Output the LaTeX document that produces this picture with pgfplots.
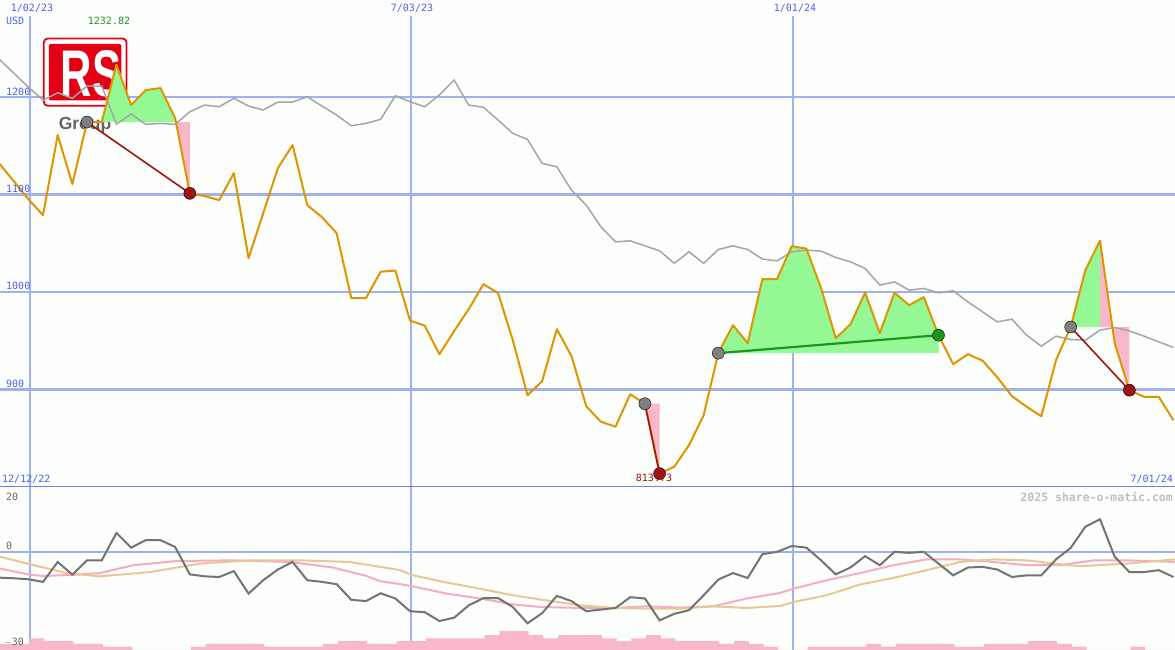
\documentclass[border=0pt]{standalone}
\usepackage{fontspec}
\usepackage{pgfplots}
\usepackage{pgfplotstable}
\pgfplotsset{compat=1.18}
\setmainfont{DejaVu Sans Mono}
\newfontfamily\logofont{Liberation Sans}
\definecolor{bg}{RGB}{252,254,252}
\definecolor{gridb}{RGB}{160,176,240}
\definecolor{gridd}{RGB}{112,128,232}
\definecolor{lblue}{RGB}{80,96,240}
\definecolor{pricec}{RGB}{222,150,0}
\definecolor{mac}{RGB}{165,165,165}
\definecolor{oscc}{RGB}{115,115,115}
\definecolor{pinkl}{RGB}{248,170,195}
\definecolor{tanl}{RGB}{230,200,150}
\definecolor{gfill}{RGB}{148,248,148}
\definecolor{pfill}{RGB}{248,184,202}
\definecolor{dred}{RGB}{160,20,20}
\definecolor{dgreen}{RGB}{30,150,30}
\definecolor{dotgrey}{RGB}{128,128,128}
\definecolor{logored}{RGB}{228,0,20}
\definecolor{lblgrey}{RGB}{100,100,100}

\pgfplotstableread{
k price ma osc
-3 1132.0 1238.7 -7.8
-2 1113.6 1224.3 -8.0
-1 1095.1 1210.0 -8.3
0 1078.7 1196.6 -9.1
1 1160.7 1204.1 -3.0
2 1110.5 1198.4 -6.9
3 1174.1 1211.0 -2.5
4 1174.1 1211.0 -2.5
5 1232.82 1172.0 5.9
6 1191.5 1182.3 1.4
7 1206.9 1171.7 3.7
8 1208.9 1172.7 3.7
9 1178.2 1171.7 1.6
10 1101.0 1184.6 -6.8
11 1098.2 1191.5 -7.4
12 1094.1 1189.8 -7.6
13 1121.8 1198.4 -5.8
14 1034.6 1190.5 -12.7
15 1080.7 1186.4 -8.6
16 1126.9 1194.6 -5.3
17 1150.5 1194.6 -3.0
18 1088.9 1200.0 -8.6
19 1076.6 1190.5 -9.1
20 1060.2 1181.3 -9.8
21 993.6 1170.3 -14.6
22 993.6 1172.7 -15.0
23 1020.7 1176.9 -12.6
24 1021.8 1201.0 -14.2
25 970.5 1194.9 -18.1
26 965.4 1189.8 -18.4
27 936.1 1201.8 -21.1
28 959.7 1217.2 -20.1
29 982.3 1191.5 -16.3
30 1007.9 1189.2 -14.1
31 998.7 1176.1 -14.1
32 950.5 1162.5 -16.8
33 894.1 1156.3 -21.8
34 908.4 1131.7 -18.7
35 961.8 1128.2 -13.4
36 934.1 1104.3 -15.0
37 882.8 1089.0 -18.1
38 866.9 1066.7 -17.6
39 861.8 1051.3 -17.1
40 895.1 1052.3 -13.8
41 885.4 1047.2 -14.2
42 813.73 1042.1 -20.9
43 820.8 1029.2 -18.9
44 842.8 1041.1 -17.8
45 873.6 1029.2 -13.2
46 937.2 1043.5 -8.4
47 965.9 1047.2 -6.4
48 947.4 1043.5 -7.9
49 1013.1 1033.6 -0.6
50 1013.1 1031.8 0.1
51 1046.9 1041.1 1.9
52 1044.3 1042.8 1.4
53 1003.8 1041.8 -2.5
54 952.5 1035.3 -6.8
55 966.9 1030.8 -4.7
56 999.2 1024.0 -1.2
57 957.7 1006.9 -4.0
58 999.2 1010.3 0.1
59 986.4 1001.8 -0.2
60 994.6 1003.5 0.1
61 955.6 999.0 -3.5
62 925.9 1001.1 -7.1
63 936.1 989.8 -4.7
64 929.5 979.5 -4.5
65 912.5 969.3 -5.3
66 893.1 972.0 -7.6
67 882.3 955.6 -7.1
68 872.5 944.3 -7.1
69 930.0 954.6 -2.2
70 964.0 951.2 1.3
71 1022.3 950.5 7.8
72 1052.5 960.8 10.1
73 947.4 963.5 -1.4
74 899.2 960.0 -6.1
75 892.5 954.6 -6.1
76 892.5 948.8 -5.5
77 868.4 943.0 -7.6
}\pricedata

\pgfplotsset{
  toppanel/.style={at={(0pt,163pt)}, anchor=south west, scale only axis,
    width=1175pt, height=487pt, xmin=-2.93, xmax=77.11, ymin=800, ymax=1299.2,
    enlargelimits=false, axis lines=none, xtick=\empty, ytick=\empty},
  botpanel/.style={at={(0pt,0pt)}, anchor=south west, scale only axis,
    width=1175pt, height=163pt, xmin=-2.93, xmax=77.11, ymin=-30, ymax=20,
    enlargelimits=false, axis lines=none, xtick=\empty, ytick=\empty}
}

\begin{document}
\begin{tikzpicture}
\useasboundingbox (0pt,0pt) rectangle (1175pt,650pt);
\fill[bg] (0pt,0pt) rectangle (1175pt,650pt);

% ---------- top panel: grid ----------
\begin{axis}[toppanel, clip=false]
  \draw[gridb, line width=2.5pt] (axis cs:-2.93,900) -- (axis cs:77.11,900);
  \draw[gridb, line width=2.5pt] (axis cs:-2.93,1000) -- (axis cs:77.11,1000);
  \draw[gridb, line width=2.5pt] (axis cs:-2.93,1100) -- (axis cs:77.11,1100);
  \draw[gridb, line width=2.5pt] (axis cs:-2.93,1200) -- (axis cs:77.11,1200);
  \draw[gridb, line width=1.6pt] (axis cs:-0.886,800) -- (axis cs:-0.886,1283);
  \draw[gridb, line width=1.6pt] (axis cs:25.07,800) -- (axis cs:25.07,1283);
  \draw[gridb, line width=1.2pt] (axis cs:51.09,800) -- (axis cs:51.09,1283);
\end{axis}

% ---------- bottom panel: grid ----------
\begin{axis}[botpanel, clip=false]
  \draw[gridb, line width=2.5pt] (axis cs:-2.93,0) -- (axis cs:77.11,0);
  \draw[gridb, line width=1.6pt] (axis cs:-0.886,-30) -- (axis cs:-0.886,20);
  \draw[gridb, line width=1.6pt] (axis cs:25.07,-30) -- (axis cs:25.07,20);
  \draw[gridb, line width=1.2pt] (axis cs:51.09,-30) -- (axis cs:51.09,20);
\end{axis}

% ---------- logo ----------
\draw[logored, line width=1.8pt, fill=white, rounded corners=4pt] (43.8pt,611.5pt) rectangle (126.5pt,544.2pt);
\fill[logored, rounded corners=1.5pt] (48.8pt,606pt) rectangle (121.3pt,549.6pt);
\node[anchor=base, text=white, inner sep=0pt, xscale=0.66] at (91pt,553pt)
  {\logofont\fontsize{66}{66}\selectfont\bfseries RS};
\node[anchor=base, text=lblgrey, inner sep=0pt] at (85pt,520.5pt)
  {\logofont\fontsize{17.5}{18}\selectfont\bfseries Group};

% ---------- top panel: data ----------
\begin{axis}[toppanel, clip=true]
  % trade 1
  \addplot[fill=gfill, draw=none] coordinates {(3,1174.1) (4,1174.1) (5,1232.82) (6,1191.5) (7,1206.9) (8,1208.9) (9,1178.2) (9,1174.1)};
  \addplot[fill=pfill, draw=none] coordinates {(9,1174.1) (9,1178.2) (10,1101.0) (10,1174.1)};
  % trade 2
  \addplot[fill=pfill, draw=none] coordinates {(41,885.4) (42,813.73) (42,885.4)};
  % trade 3
  \addplot[fill=gfill, draw=none] coordinates {(46,937.2) (47,965.9) (48,947.4) (49,1013.1) (50,1013.1) (51,1046.9) (52,1044.3) (53,1003.8) (54,952.5) (55,966.9) (56,999.2) (57,957.7) (58,999.2) (59,986.4) (60,994.6) (61,955.6) (61,937.2)};
  % trade 4
  \addplot[fill=gfill, draw=none] coordinates {(70,964.0) (71,1022.3) (72,1052.5) (72,964.0)};
  \addplot[fill=pfill, draw=none] coordinates {(72,964.0) (72,1052.5) (73,947.4) (74,899.2) (74,964.0)};
  % moving average
  \addplot[mac, line width=1.5pt] table[x=k, y=ma] {\pricedata};
  % price
  \addplot[pricec, line width=2pt, line join=round] table[x=k, y=price] {\pricedata};
  % trade lines
  \addplot[dred, line width=1.6pt] coordinates {(3,1174.1) (10,1101.0)};
  \addplot[dred, line width=1.6pt] coordinates {(41,885.4) (42,813.73)};
  \addplot[dgreen, line width=2.2pt] coordinates {(46,937.2) (61,955.6)};
  \addplot[dred, line width=1.6pt] coordinates {(70,964.0) (74,899.2)};
  % dots
  \addplot[only marks, mark=*, mark size=6pt, mark options={fill=dotgrey, draw=none}] coordinates {(3,1174.1) (41,885.4) (46,937.2) (70,964.0)};
  \addplot[only marks, mark=*, mark size=6pt, mark options={fill=dred, draw=none}] coordinates {(10,1101.0) (42,813.73) (74,899.2)};
  \addplot[only marks, mark=*, mark size=6pt, mark options={fill=dgreen, draw=none}] coordinates {(61,955.6)};
  \draw[gridd, line width=2.5pt] (axis cs:-2.93,800) -- (axis cs:77.11,800);
\end{axis}

% ---------- bottom panel: data ----------
\begin{axis}[botpanel, clip=true]
  \addplot[fill=pfill, draw=none, const plot] coordinates {
    (-3,-30) (-3,-28.15) (-0.92,-26.4) (0.08,-27.3) (2.08,-28.15) (4.08,-29) (6.08,-30)
    (10.08,-29) (11.08,-28.15) (15.08,-29) (19.08,-28.15) (20.08,-27.3) (22.08,-28.15)
    (24.08,-27.3) (26.08,-26.4) (30.08,-25.4) (31.08,-24.1) (33.08,-25.4) (34.08,-26.4)
    (35.08,-25.4) (38.08,-26.4) (39.08,-27.3) (40.08,-26.4) (41.08,-25.4) (42.08,-26.4)
    (43.08,-27.3) (46.08,-28.15) (47.08,-27.3) (48.08,-28.15) (49.08,-29) (50.08,-30)
    (52.08,-29) (56.08,-28.15) (57.08,-29) (58.08,-28.15) (62.08,-29) (64.08,-28.15)
    (67.08,-27.3) (69.08,-28.15) (70.08,-29) (71.08,-30) (74.08,-29) (75.08,-30) (77.11,-30)};
  \addplot[pinkl, line width=2pt] coordinates {
    (-2.93,-5.0) (-0.89,-6.9) (0,-7.3) (2.3,-6.9) (3.88,-6.4) (6.13,-4.0) (9.11,-2.7)
    (12.94,-2.5) (16.83,-3.0) (19.75,-4.7) (22.05,-7.3) (22.96,-8.9) (24.36,-9.8)
    (25.2,-10.5) (27.5,-12.7) (29.77,-14.2) (32.0,-16.0) (33.86,-16.8) (36.58,-17.1)
    (38.83,-17.1) (41.12,-16.6) (43.39,-17.0) (45.64,-16.6) (47.94,-14.2) (50.2,-12.5)
    (51.1,-11.2) (53.39,-8.6) (55.65,-6.4) (57.92,-4.0) (60.2,-2.2) (62.47,-2.2)
    (64.73,-3.0) (67.01,-4.0) (69.28,-4.0) (71.55,-2.5) (73.82,-2.5) (77.1,-3.0)};
  \addplot[tanl, line width=2pt] coordinates {
    (-2.93,-1.4) (-0.89,-3.7) (1.61,-6.4) (3.88,-7.4) (7.29,-6.1) (10.69,-3.5) (14.1,-2.5)
    (17.51,-2.5) (20.91,-3.0) (22.96,-4.5) (24.32,-5.5) (25.2,-7.1) (27.5,-9.3)
    (29.77,-11.2) (32.0,-13.2) (34.31,-14.8) (36.58,-16.3) (38.83,-17.1) (41.12,-17.3)
    (43.39,-17.3) (45.64,-16.6) (47.94,-17.1) (50.2,-16.5) (51.1,-15.3) (53.39,-13.2)
    (55.65,-9.9) (57.92,-7.9) (60.2,-5.5) (62.47,-3.0) (64.73,-2.2) (67.01,-2.5)
    (69.28,-3.7) (70.64,-4.3) (73.82,-3.5) (77.1,-2.2)};
  \addplot[oscc, line width=2pt] table[x=k, y=osc] {\pricedata};
\end{axis}

% ---------- labels ----------
\begin{scope}[every node/.style={inner sep=0pt, font=\fontsize{10}{12}\selectfont}]
  \node[text=lblue] at (32pt,642pt) {1/02/23};
  \node[text=lblue] at (412pt,642pt) {7/03/23};
  \node[text=lblue] at (795pt,642pt) {1/01/24};
  \node[text=lblue, anchor=west] at (6pt,629pt) {USD};
  \node[text=dgreen] at (109pt,629pt) {1232.82};
  \node[text=lblue, anchor=west] at (6pt,558.5pt) {1200};
  \node[text=lblue, anchor=west] at (6pt,461pt) {1100};
  \node[text=lblue, anchor=west] at (6pt,364pt) {1000};
  \node[text=lblue, anchor=west] at (6pt,266pt) {900};
  \node[text=lblue, anchor=west] at (2pt,171pt) {12/12/22};
  \node[text=lblue, anchor=east] at (1173pt,171pt) {7/01/24};
  \node[text=dred] at (654pt,172pt) {813.73};
  \node[text=lblgrey, anchor=west] at (6pt,153pt) {20};
  \node[text=lblgrey, anchor=west] at (6pt,104pt) {0};
  \node[text=lblgrey, anchor=west] at (4pt,8pt) {$-$30};
  \node[text={rgb,255:red,190;green,190;blue,190}, anchor=east, font=\fontsize{11.5}{12}\selectfont\bfseries] at (1173pt,153pt) {2025 share-o-matic.com};
\end{scope}
\end{tikzpicture}
\end{document}
